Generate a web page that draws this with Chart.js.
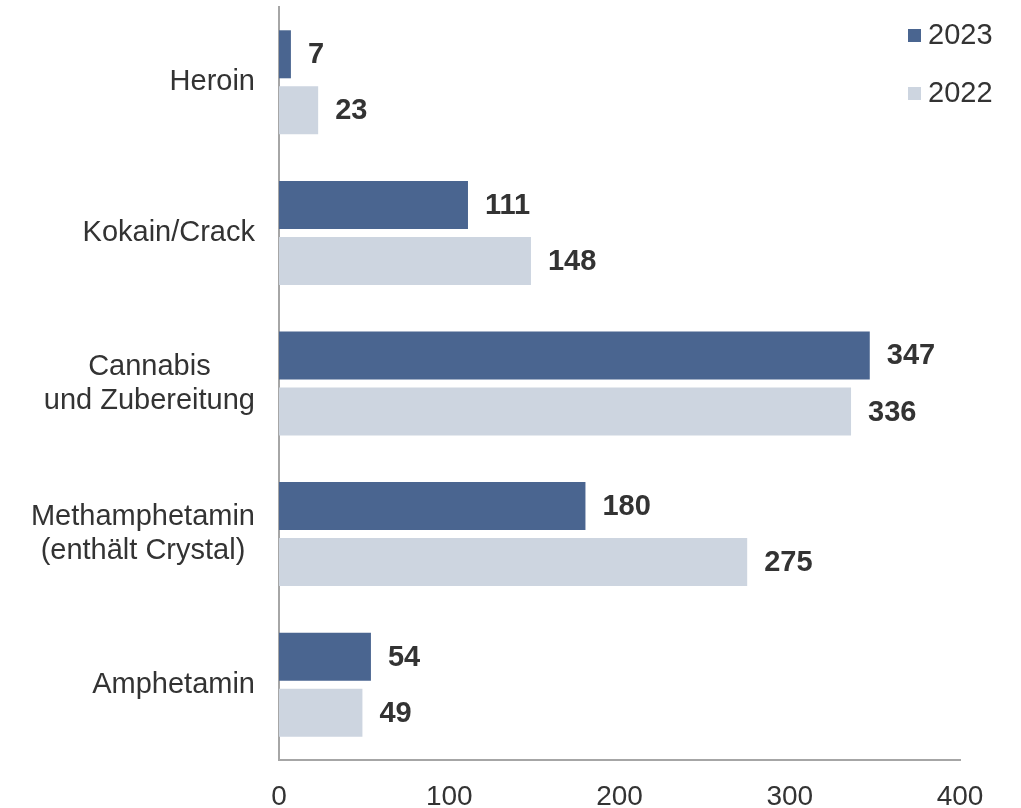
<!DOCTYPE html>
<html>
<head>
<meta charset="utf-8">
<script src="https://cdn.jsdelivr.net/npm/chart.js@4/dist/chart.umd.min.js"></script>
<style>
html,body{margin:0;padding:0;background:#fff;}
#wrap{width:1021px;height:808px;position:relative;}
</style>
</head>
<body>
<div id="wrap"><canvas id="c" width="1021" height="808"></canvas></div>
<script>
const categories = [["Heroin"], ["Kokain/Crack"], ["Cannabis", "und Zubereitung"], ["Methamphetamin", "(enthält Crystal)"], ["Amphetamin"]];
const seriesNames = ["2023", "2022"];
const values2023 = [7, 111, 347, 180, 54];
const values2022 = [23, 148, 336, 275, 49];
const xTicks = [0, 100, 200, 300, 400];

const FONT = "'Liberation Sans', Arial, sans-serif";
const TEXT = '#333333';
const COL23 = '#4a6590';
const COL22 = '#cdd5e0';

const labelsPlugin = {
  id: 'customLabels',
  afterDraw(chart) {
    const ctx = chart.ctx;
    const yScale = chart.scales.y;
    ctx.save();
    // category labels
    ctx.font = '29px ' + FONT;
    ctx.fillStyle = TEXT;
    ctx.textBaseline = 'middle';
    ctx.textAlign = 'center';
    const lh = 34;
    categories.forEach((lines, i) => {
      const cy = yScale.getPixelForValue(i);
      const maxW = Math.max(...lines.map(l => ctx.measureText(l).width));
      const cx = 255 - maxW / 2;
      const y0 = cy - (lines.length - 1) * lh / 2;
      lines.forEach((l, j) => ctx.fillText(l, cx, y0 + j * lh));
    });
    // data labels
    ctx.font = 'bold 29px ' + FONT;
    ctx.textAlign = 'left';
    chart.data.datasets.forEach((ds, di) => {
      const meta = chart.getDatasetMeta(di);
      meta.data.forEach((bar, i) => {
        ctx.fillText(String(ds.data[i]), bar.x + 17, bar.y + 1);
      });
    });
    // legend
    ctx.font = '29px ' + FONT;
    const legY = [36, 94];
    chart.data.datasets.forEach((ds, di) => {
      ctx.fillStyle = ds.backgroundColor;
      ctx.fillRect(908, legY[di] - 7, 13, 13);
      ctx.fillStyle = TEXT;
      ctx.fillText(ds.label, 928, legY[di]);
    });
    ctx.restore();
  }
};

new Chart(document.getElementById('c'), {
  type: 'bar',
  data: {
    labels: categories.map(l => l.join(' ')),
    datasets: [
      { label: seriesNames[0], data: values2023, backgroundColor: COL23, categoryPercentage: 0.744, barPercentage: 0.857 },
      { label: seriesNames[1], data: values2022, backgroundColor: COL22, categoryPercentage: 0.744, barPercentage: 0.857 }
    ]
  },
  options: {
    indexAxis: 'y',
    responsive: false,
    animation: false,
    layout: { padding: { left: 0, right: 61, top: 7, bottom: 0 } },
    plugins: { legend: { display: false }, tooltip: { enabled: false } },
    scales: {
      x: {
        min: 0, max: 400,
        afterBuildTicks: (s) => { s.ticks = xTicks.map(v => ({ value: v })); },
        afterFit: (s) => { s.height = 48; },
        grid: { display: false, drawTicks: false },
        border: { display: true, color: '#a6a6a6', width: 2 },
        ticks: { font: { family: FONT, size: 28 }, color: TEXT, padding: 20, maxRotation: 0 }
      },
      y: {
        afterFit: (s) => { s.width = 279; },
        grid: { display: false, drawTicks: false },
        border: { display: true, color: '#a6a6a6', width: 2 },
        ticks: { display: false }
      }
    }
  },
  plugins: [labelsPlugin]
});
</script>
</body>
</html>
